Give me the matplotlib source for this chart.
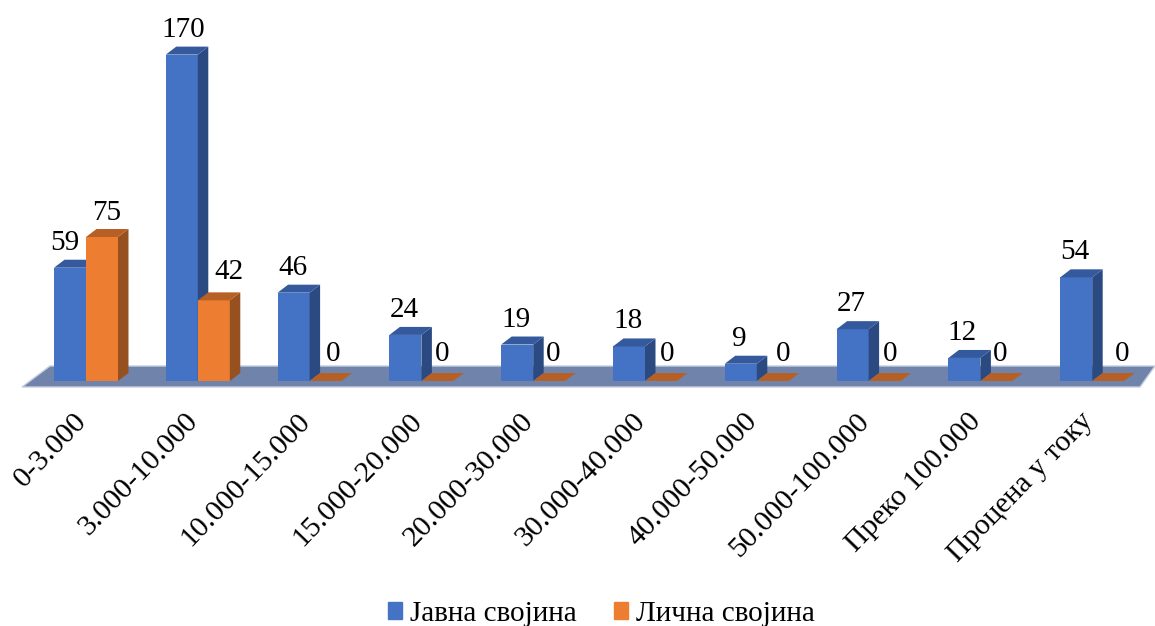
import matplotlib
matplotlib.use('Agg')
import matplotlib.pyplot as plt
from matplotlib.patches import Patch, Polygon
from matplotlib.transforms import ScaledTranslation

categories = ['0-3.000', '3.000-10.000', '10.000-15.000', '15.000-20.000', '20.000-30.000',
              '30.000-40.000', '40.000-50.000', '50.000-100.000', 'Преко 100.000', 'Процена у току']
javna = [59, 170, 46, 24, 19, 18, 9, 27, 12, 54]
licna = [75, 42, 0, 0, 0, 0, 0, 0, 0, 0]

plt.rcParams['font.family'] = ['Liberation Serif', 'DejaVu Serif']

W, H = 1155, 626
BASE = 381          # baseline in pixels from the top
PX_X = 111.8        # pixels per category
PX_Y = 1.92         # pixels per value unit
PT = 72 / 100       # points per pixel

fig = plt.figure(figsize=(W / 100, H / 100), dpi=100)
ax = fig.add_axes([0, (H - BASE) / H, 1, BASE / H])
ax.set_xlim(-86 / PX_X, (W - 86) / PX_X)
ax.set_ylim(0, BASE / PX_Y)

bar_w = 32 / PX_X
dx = 10.5 / PX_X    # fake 3d depth
dy = 8 / PX_Y

# floor
floor = [(-64 / PX_X, -6 / PX_Y), (-36 / PX_X, 15 / PX_Y), (1069 / PX_X, 15 / PX_Y), (1054 / PX_X, -6 / PX_Y)]
ax.add_patch(Polygon(floor, closed=True, facecolor='#6F83AB', edgecolor='#C5CEE0', lw=1, clip_on=False, zorder=1))


def draw_bars(values, offset, front, side, top, z):
    bars = ax.bar([i + offset for i in range(len(values))], values, bar_w, color=front, zorder=z)
    for b, v in zip(bars, values):
        x0, x1 = b.get_x(), b.get_x() + b.get_width()
        if v > 0:
            ax.add_patch(Polygon([(x1, 0), (x1 + dx, dy), (x1 + dx, v + dy), (x1, v)], facecolor=side, lw=0, zorder=z))
        ax.add_patch(Polygon([(x0, v), (x0 + dx, v + dy), (x1 + dx, v + dy), (x1, v)], facecolor=top, lw=0, zorder=z))
    return bars


draw_bars(javna, -bar_w / 2, '#4472C4', '#2C4A82', '#34599C', 2)
draw_bars(licna, bar_w / 2, '#ED7D31', '#975020', '#B66026', 3)

# value labels, nudged sideways like the original (pixels)
javna_nudge = [-5, 1, -1, -1, -1, -1, -1, -1, -2, -1]
licna_nudge = [5, 15, 8, 5, 4, 6, 10, 6, 4, 14]
licna_lift = [3, 7, 6, 6, 6, 6, 6, 6, 6, 6]
for i in range(len(categories)):
    ax.annotate(str(javna[i]), (i - bar_w / 2, javna[i] + dy), xytext=(javna_nudge[i] * PT, 4 * PT),
                textcoords='offset points', ha='center', va='bottom', fontsize=21, zorder=5)
    ax.annotate(str(licna[i]), (i + bar_w / 2, licna[i] + dy), xytext=(licna_nudge[i] * PT, licna_lift[i] * PT),
                textcoords='offset points', ha='center', va='bottom', fontsize=21, zorder=5)

for s in ax.spines.values():
    s.set_visible(False)
ax.set_yticks([])
ax.set_xticks(range(len(categories)))
ax.set_xticklabels(categories, rotation=46, ha='right', va='top', rotation_mode='anchor', fontsize=21.5)
ax.tick_params(axis='x', length=0, pad=18)
shift = ScaledTranslation(-13 / 100, -2 / 100, fig.dpi_scale_trans)
for lab in ax.get_xticklabels():
    lab.set_transform(lab.get_transform() + shift)

fig.legend(handles=[Patch(color='#4472C4', label='Јавна својина'), Patch(color='#ED7D31', label='Лична својина')],
           loc='lower center', bbox_to_anchor=(0.5208, -0.043), ncol=2, frameon=False, fontsize=21,
           handlelength=0.5, handleheight=0.5, handletextpad=0.28, columnspacing=1.25)

fig.savefig('out.png', dpi=100)
